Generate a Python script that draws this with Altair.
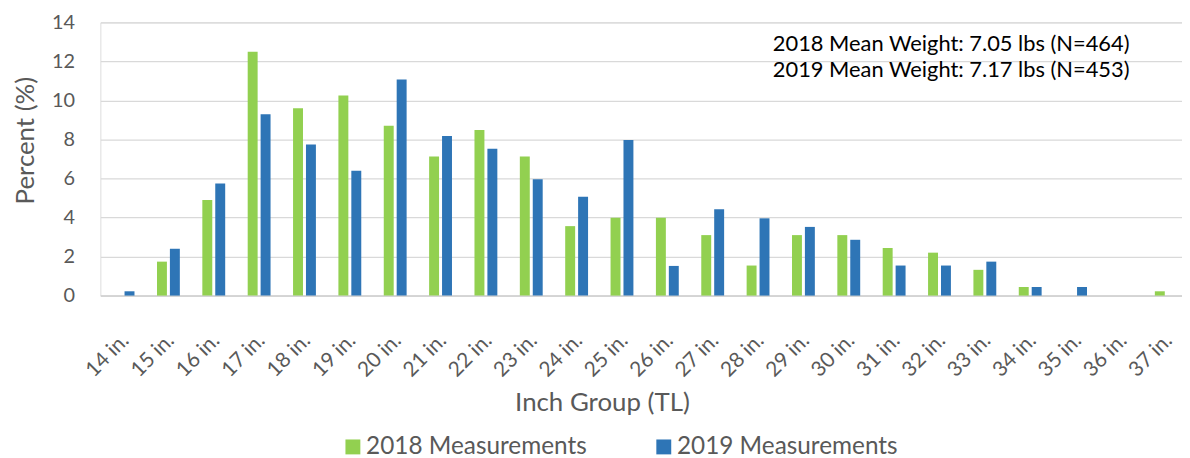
import altair as alt
import pandas as pd

groups = ["14 in.", "15 in.", "16 in.", "17 in.", "18 in.", "19 in.", "20 in.", "21 in.",
          "22 in.", "23 in.", "24 in.", "25 in.", "26 in.", "27 in.", "28 in.", "29 in.",
          "30 in.", "31 in.", "32 in.", "33 in.", "34 in.", "35 in.", "36 in.", "37 in."]
pct_2018 = [0, 1.74, 4.9, 12.5, 9.6, 10.26, 8.7, 7.13, 8.49, 7.13, 3.56, 3.99,
            3.99, 3.1, 1.54, 3.1, 3.1, 2.44, 2.2, 1.32, 0.44, 0, 0, 0.22]
pct_2019 = [0.22, 2.4, 5.74, 9.3, 7.74, 6.4, 11.08, 8.18, 7.52, 5.96, 5.06, 7.98,
            1.52, 4.42, 3.96, 3.52, 2.86, 1.54, 1.54, 1.74, 0.44, 0.44, 0, 0]
series = ["2018 Measurements", "2019 Measurements"]
colors = ["#92D050", "#2E75B6"]
notes = ["2018 Mean Weight: 7.05 lbs (N=464)", "2019 Mean Weight: 7.17 lbs (N=453)"]

FONT = "Lato"
GRAY = "#595959"

df = pd.DataFrame({
    "group": groups * 2,
    "series": [series[0]] * len(groups) + [series[1]] * len(groups),
    "pct": pct_2018 + pct_2019,
})

bars = alt.Chart(df).mark_bar().encode(
    x=alt.X("group:N", sort=groups, title="Inch Group (TL)",
            scale=alt.Scale(range=[0, 1096], paddingInner=0.496, paddingOuter=0.248),
            axis=alt.Axis(labelAngle=-45, labelAlign="right", labelBaseline="alphabetic",
                          labelPadding=46, labelOffset=7, ticks=False, tickSize=0,
                          labelFont=FONT, labelFontSize=21, labelColor=GRAY,
                          titleFont=FONT, titleFontSize=26, titleColor=GRAY,
                          titleFontWeight="normal", titleX=505, titleY=108,
                          titleAlign="center", titleBaseline="middle",
                          domainColor="#d0d0d0", domainWidth=1.6, grid=False)),
    xOffset=alt.XOffset("series:N", sort=series,
                        scale=alt.Scale(paddingInner=0.2308, paddingOuter=0)),
    y=alt.Y("pct:Q", title="Percent (%)",
            scale=alt.Scale(domain=[0, 14], nice=False),
            axis=alt.Axis(values=[0, 2, 4, 6, 8, 10, 12, 14], ticks=False, tickSize=0,
                          domain=False, labelPadding=26,
                          labelFont=FONT, labelFontSize=20, labelColor=GRAY,
                          titleFont=FONT, titleFontSize=26, titleColor=GRAY,
                          titleFontWeight="normal", titleX=-75, titleY=118.5,
                          titleAngle=-90, titleAlign="center", titleBaseline="middle",
                          gridColor="#d9d9d9", gridWidth=1.3)),
    color=alt.Color("series:N", scale=alt.Scale(domain=series, range=colors),
                    legend=alt.Legend(title=None, orient="none", direction="horizontal",
                                      legendX=242, legendY=415, padding=0,
                                      symbolType="square", symbolSize=225,
                                      symbolStrokeWidth=0, symbolOpacity=1,
                                      labelFont=FONT, labelFontSize=24.5, labelColor=GRAY,
                                      labelOffset=1, columnPadding=65, labelLimit=400)),
)

note1 = alt.Chart(pd.DataFrame({"t": [notes[0]]})).mark_text(
    align="left", baseline="middle", font=FONT, fontSize=22, color="black"
).encode(text="t:N", x=alt.value(677), y=alt.value(22))
note2 = alt.Chart(pd.DataFrame({"t": [notes[1]]})).mark_text(
    align="left", baseline="middle", font=FONT, fontSize=22, color="black"
).encode(text="t:N", x=alt.value(677), y=alt.value(48))

chart = alt.layer(bars, note1, note2).properties(
    width=1089, height=275,
    padding={"left": 93, "top": 13, "right": 0, "bottom": 165},
    autosize=alt.AutoSizeParams(type="none"),
).configure_view(stroke=None).configure(background="white")

chart.save("out.html", embed_options={"renderer": "svg", "actions": False})
